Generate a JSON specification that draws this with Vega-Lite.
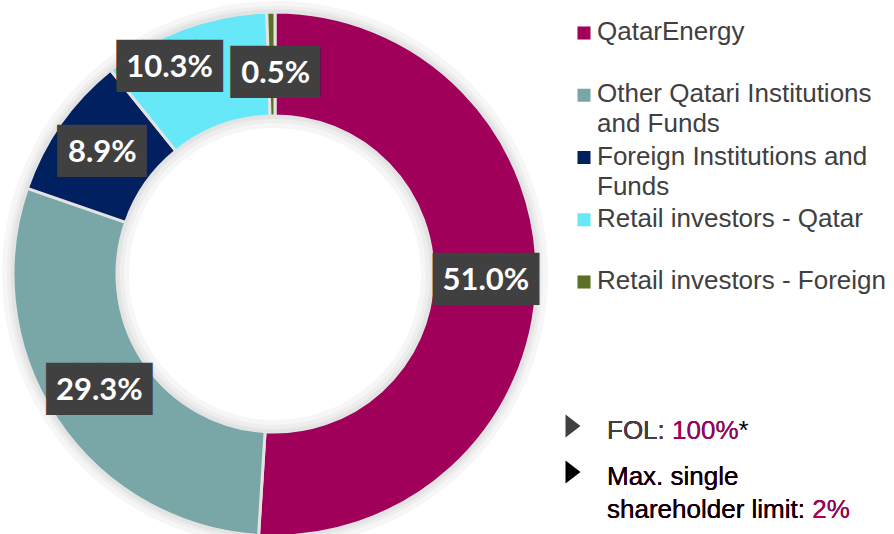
{
  "$schema": "https://vega.github.io/schema/vega-lite/v6.json",
  "padding": 0,
  "spacing": 0,
  "background": "white",
  "config": {"view": {"stroke": null}},
  "datasets": {
    "shares": [
      {"name": "QatarEnergy", "share": 0.510, "order": 1},
      {"name": "Other Qatari Institutions and Funds", "share": 0.293, "order": 2},
      {"name": "Foreign Institutions and Funds", "share": 0.089, "order": 3},
      {"name": "Retail investors - Qatar", "share": 0.103, "order": 4},
      {"name": "Retail investors - Foreign", "share": 0.005, "order": 5}
    ],
    "notes": [
      {"note": "FOL", "text": "FOL: 100%*", "upto": "FOL: 100%", "lead": "FOL: "},
      {"note": "Max", "text": "Max. single\nshareholder limit: 2%", "upto": "Max. single\nshareholder limit: 2%", "lead": "Max. single\nshareholder limit: "}
    ]
  },
  "hconcat": [
    {
      "width": 550,
      "height": 548,
      "data": {"name": "shares"},
      "encoding": {
        "theta": {"field": "share", "type": "quantitative", "stack": true},
        "order": {"field": "order", "type": "quantitative"}
      },
      "layer": [
        {"mark": {"type": "arc", "innerRadius": 146, "outerRadius": 273, "fill": "#f6f6f6"}},
        {"mark": {"type": "arc", "innerRadius": 151, "outerRadius": 268, "fill": "#eeeeee"}},
        {"mark": {"type": "arc", "innerRadius": 155, "outerRadius": 265, "fill": "#e6e6e6"}},
        {
          "mark": {"type": "arc", "innerRadius": 158, "outerRadius": 262, "stroke": "#e3e3e3", "strokeWidth": 3},
          "encoding": {
            "color": {
              "field": "name", "type": "nominal", "legend": null,
              "scale": {
                "domain": ["QatarEnergy", "Other Qatari Institutions and Funds", "Foreign Institutions and Funds", "Retail investors - Qatar", "Retail investors - Foreign"],
                "range": ["#A0005A", "#79A6A7", "#00205F", "#66E8F8", "#5B7025"]
              }
            }
          }
        },
        {
          "mark": {"type": "text", "font": "DejaVu Sans Mono", "fontSize": 44, "radius": 211, "color": "#404040", "align": "center", "baseline": "middle"},
          "encoding": {"text": {"condition": {"test": "datum.name === 'QatarEnergy' || datum.name === 'Other Qatari Institutions and Funds'", "value": "████"}, "value": ""}}
        },
        {
          "mark": {"type": "text", "font": "DejaVu Sans Mono", "fontSize": 44, "radius": 211, "dx": 8, "color": "#404040", "align": "center", "baseline": "middle"},
          "encoding": {"text": {"condition": {"test": "datum.name === 'Foreign Institutions and Funds'", "value": "███▍"}, "value": ""}}
        },
        {
          "mark": {"type": "text", "font": "DejaVu Sans Mono", "fontSize": 44, "radius": 211, "dx": -32, "dy": -8, "color": "#404040", "align": "center", "baseline": "middle"},
          "encoding": {"text": {"condition": {"test": "datum.name === 'Retail investors - Qatar'", "value": "████"}, "value": ""}}
        },
        {
          "mark": {"type": "text", "font": "DejaVu Sans Mono", "fontSize": 44, "radius": 211, "dx": 12, "dy": 11, "color": "#404040", "align": "center", "baseline": "middle"},
          "encoding": {"text": {"condition": {"test": "datum.name === 'Retail investors - Foreign'", "value": "███▍"}, "value": ""}}
        },
        {
          "mark": {"type": "text", "font": "Lato", "fontWeight": "bold", "fontSize": 31, "radius": 211, "color": "white", "align": "center", "baseline": "middle"},
          "encoding": {
            "text": {"condition": {"test": "datum.name === 'QatarEnergy' || datum.name === 'Foreign Institutions and Funds' || datum.name === 'Other Qatari Institutions and Funds'", "field": "share", "type": "quantitative", "format": ".1%"}, "value": ""}
          }
        },
        {
          "mark": {"type": "text", "font": "Lato", "fontWeight": "bold", "fontSize": 31, "radius": 211, "dx": -32, "dy": -8, "color": "white", "align": "center", "baseline": "middle"},
          "encoding": {
            "text": {"condition": {"test": "datum.name === 'Retail investors - Qatar'", "field": "share", "type": "quantitative", "format": ".1%"}, "value": ""}
          }
        },
        {
          "mark": {"type": "text", "font": "Lato", "fontWeight": "bold", "fontSize": 31, "radius": 211, "dx": 4, "dy": 11, "color": "white", "align": "center", "baseline": "middle"},
          "encoding": {
            "text": {"condition": {"test": "datum.name === 'Retail investors - Foreign'", "field": "share", "type": "quantitative", "format": ".1%"}, "value": ""}
          }
        }
      ]
    },
    {
      "width": 344,
      "height": 548,
      "resolve": {"scale": {"y": "independent"}},
      "layer": [
        {
          "data": {"name": "shares"},
          "mark": {"type": "point", "shape": "square", "filled": true, "size": 170, "opacity": 1},
          "encoding": {
            "x": {"value": 34},
            "y": {"field": "name", "type": "nominal", "sort": {"field": "order", "op": "min"}, "scale": {"type": "point", "range": [33, 282], "padding": 0}, "axis": null},
            "color": {
              "field": "name", "type": "nominal", "legend": null,
              "scale": {
                "domain": ["QatarEnergy", "Other Qatari Institutions and Funds", "Foreign Institutions and Funds", "Retail investors - Qatar", "Retail investors - Foreign"],
                "range": ["#A0005A", "#79A6A7", "#00205F", "#66E8F8", "#5B7025"]
              }
            }
          }
        },
        {
          "data": {"name": "shares"},
          "mark": {"type": "text", "align": "left", "baseline": "alphabetic", "dy": 7, "font": "Liberation Sans", "fontSize": 26, "lineHeight": 30, "color": "#404040"},
          "encoding": {
            "x": {"value": 47},
            "y": {"field": "name", "type": "nominal", "sort": {"field": "order", "op": "min"}, "scale": {"type": "point", "range": [33, 282], "padding": 0}, "axis": null},
            "text": {
              "condition": [
                {"test": "datum.name === 'Other Qatari Institutions and Funds'", "value": ["Other Qatari Institutions", "and Funds"]},
                {"test": "datum.name === 'Foreign Institutions and Funds'", "value": ["Foreign Institutions and", "Funds"]}
              ],
              "field": "name", "type": "nominal"
            }
          }
        },
        {
          "data": {"name": "notes"},
          "mark": {"type": "point", "shape": "M-0.65,-1L0.65,0L-0.65,1Z", "filled": true, "size": 529, "opacity": 1},
          "encoding": {
            "x": {"value": 23},
            "y": {"field": "note", "type": "nominal", "sort": null, "scale": {"type": "point", "range": [426, 472], "padding": 0}, "axis": null},
            "color": {"condition": {"test": "datum.note === 'FOL'", "value": "#404040"}, "value": "#000000"}
          }
        },
        {
          "data": {"name": "notes"},
          "mark": {"type": "text", "align": "left", "baseline": "alphabetic", "dy": 13, "font": "Liberation Sans", "fontSize": 26, "lineHeight": 33, "lineBreak": "\n", "color": "#000000"},
          "encoding": {
            "x": {"value": 57},
            "y": {"field": "note", "type": "nominal", "sort": null, "scale": {"type": "point", "range": [426, 472], "padding": 0}, "axis": null},
            "text": {"field": "text", "type": "nominal"}
          }
        },
        {
          "data": {"name": "notes"},
          "mark": {"type": "text", "align": "left", "baseline": "alphabetic", "dy": 13, "font": "Liberation Sans", "fontSize": 26, "lineHeight": 33, "lineBreak": "\n", "color": "#A5005F"},
          "encoding": {
            "x": {"value": 57},
            "y": {"field": "note", "type": "nominal", "sort": null, "scale": {"type": "point", "range": [426, 472], "padding": 0}, "axis": null},
            "text": {"field": "upto", "type": "nominal"}
          }
        },
        {
          "data": {"name": "notes"},
          "mark": {"type": "text", "align": "left", "baseline": "alphabetic", "dy": 13, "font": "Liberation Sans", "fontSize": 26, "lineHeight": 33, "lineBreak": "\n"},
          "encoding": {
            "x": {"value": 57},
            "y": {"field": "note", "type": "nominal", "sort": null, "scale": {"type": "point", "range": [426, 472], "padding": 0}, "axis": null},
            "text": {"field": "lead", "type": "nominal"},
            "color": {"condition": {"test": "datum.note === 'FOL'", "value": "#404040"}, "value": "#000000"}
          }
        }
      ]
    }
  ]
}
